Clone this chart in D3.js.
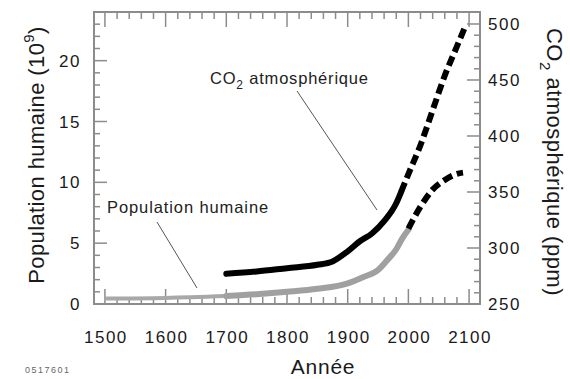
<!DOCTYPE html>
<html lang="fr">
<head>
  <meta charset="UTF-8">
  <title>Population et CO2</title>
  <style>
    body{margin:0;background:#fff;}
    svg text{font-family:"Liberation Sans", Arial, sans-serif;}
  </style>
</head>
<body>
<svg width="570" height="379"></svg>

<script src="https://d3js.org/d3.v7.min.js"></script>
<script>
  // donnees
  var popYearsEarly = [1500, 1600, 1700];
  var popValuesEarly = [0.45, 0.5, 0.65];
  var popYears = [1700, 1750, 1800, 1850, 1900, 1925, 1950, 1965, 1980, 1990, 2000];
  var popValues = [0.65, 0.8, 1.0, 1.25, 1.7, 2.2, 2.8, 3.6, 4.5, 5.4, 6.1];
  var popProjYears = [2000, 2020, 2040, 2060, 2080, 2090];
  var popProjValues = [6.2, 8.0, 9.4, 10.2, 10.7, 10.8];
  var co2Years = [1700, 1750, 1800, 1850, 1875, 1900, 1920, 1940, 1960, 1980, 1988];
  var co2Values = [277, 279, 282, 285, 288, 297, 306, 313, 324, 340, 350];
  var co2ProjYears = [1988, 2000, 2020, 2040, 2060, 2080, 2093];
  var co2ProjValues = [350, 366, 392, 423, 454, 480, 497];
  var xTicks = [1500, 1600, 1700, 1800, 1900, 2000, 2100];
  var popTicks = [0, 5, 10, 15, 20];
  var co2Ticks = [250, 300, 350, 400, 450, 500];

  var svg = d3.select('svg');
  var frame = {left: 94, right: 480, top: 12, bottom: 304};
  var axisColor = '#8c8c8c';
  var textColor = '#1a1a1a';

  var x = d3.scaleLinear().domain([1482, 2118]).range([frame.left, frame.right]);
  var yPop = d3.scaleLinear().domain([0, 24]).range([frame.bottom, frame.top]);
  var yCo2 = d3.scaleLinear().domain([250, 510.7]).range([frame.bottom, frame.top]);

  //cadre
  svg.append('rect')
    .attr('x', frame.left).attr('y', frame.top)
    .attr('width', frame.right - frame.left).attr('height', frame.bottom - frame.top)
    .attr('fill', 'none').attr('stroke', axisColor).attr('stroke-width', 2);

  var ticks = svg.append('g').attr('stroke', axisColor).attr('stroke-width', 1.5);
  //graduations en x, haut et bas
  d3.range(1500, 2101, 20).forEach(function (yr) {
    var len = yr % 100 === 0 ? 15 : 7;
    var px = x(yr);
    ticks.append('line').attr('x1', px).attr('x2', px).attr('y1', frame.bottom).attr('y2', frame.bottom - len);
    ticks.append('line').attr('x1', px).attr('x2', px).attr('y1', frame.top).attr('y2', frame.top + len);
  });
  //graduations population (gauche)
  d3.range(0, 24, 1).forEach(function (v) {
    var len = v % 5 === 0 ? 13 : 6;
    ticks.append('line').attr('x1', frame.left).attr('x2', frame.left + len).attr('y1', yPop(v)).attr('y2', yPop(v));
  });
  //graduations CO2 (droite)
  d3.range(250, 510, 10).forEach(function (v) {
    var len = v % 50 === 0 ? 13 : 6;
    ticks.append('line').attr('x1', frame.right).attr('x2', frame.right - len).attr('y1', yCo2(v)).attr('y2', yCo2(v));
  });

  //etiquettes
  var labels = svg.append('g').attr('fill', textColor).attr('font-size', 17).attr('letter-spacing', 1.5);
  labels.selectAll('.xl').data(xTicks).enter().append('text')
    .attr('x', function (d) { return x(d) + 1; }).attr('y', 343)
    .attr('text-anchor', 'middle').text(function (d) { return d; });
  labels.selectAll('.pl').data(popTicks).enter().append('text')
    .attr('x', 81).attr('y', function (d) { return yPop(d) + 6; })
    .attr('text-anchor', 'end').text(function (d) { return d; });
  labels.selectAll('.cl').data(co2Ticks).enter().append('text')
    .attr('x', 488).attr('y', function (d) { return yCo2(d) + 6; })
    .text(function (d) { return d; });

  //titres des axes
  svg.append('text').attr('x', 323).attr('y', 374).attr('text-anchor', 'middle')
    .attr('font-size', 21).attr('letter-spacing', 0.8).attr('fill', textColor).text('Année');

  var lt = svg.append('text').attr('transform', 'translate(44,155) rotate(-90)')
    .attr('text-anchor', 'middle').attr('font-size', 22).attr('letter-spacing', 0.4).attr('fill', textColor);
  lt.append('tspan').text('Population humaine (10');
  lt.append('tspan').attr('font-size', 15).attr('dy', -10).text('9');
  lt.append('tspan').attr('dy', 10).text(')');

  var rt = svg.append('text').attr('transform', 'translate(547,162) rotate(90)')
    .attr('text-anchor', 'middle').attr('font-size', 22).attr('letter-spacing', 0.5).attr('fill', textColor);
  rt.append('tspan').text('CO');
  rt.append('tspan').attr('font-size', 15).attr('dy', 7).text('2');
  rt.append('tspan').attr('dy', -7).text(' atmosphérique (ppm)');

  //courbes
  var linePop = d3.line().x(function (d) { return x(d[0]); }).y(function (d) { return yPop(d[1]); }).curve(d3.curveMonotoneX);
  var lineCo2 = d3.line().x(function (d) { return x(d[0]); }).y(function (d) { return yCo2(d[1]); }).curve(d3.curveMonotoneX);

  var g = svg.append('g').attr('fill', 'none').attr('stroke-linejoin', 'round');
  g.append('path').attr('d', linePop(d3.zip(popYearsEarly, popValuesEarly)))
    .attr('stroke', '#a8a8a8').attr('stroke-width', 4);
  g.append('path').attr('d', linePop(d3.zip(popYears, popValues)))
    .attr('stroke', '#a0a0a0').attr('stroke-width', 6).attr('stroke-linecap', 'round');
  g.append('path').attr('d', lineCo2(d3.zip(co2Years, co2Values)))
    .attr('stroke', '#000').attr('stroke-width', 6).attr('stroke-linecap', 'round');
  g.append('path').attr('d', linePop(d3.zip(popProjYears, popProjValues)))
    .attr('stroke', '#000').attr('stroke-width', 6).attr('stroke-dasharray', '10,5');
  g.append('path').attr('d', lineCo2(d3.zip(co2ProjYears, co2ProjValues)))
    .attr('stroke', '#000').attr('stroke-width', 6).attr('stroke-dasharray', '10,5');

  //annotations
  var ann = svg.append('g').attr('fill', '#222').attr('font-size', 16.5);
  var ct = ann.append('text').attr('x', 210).attr('y', 84).attr('letter-spacing', 0.8);
  ct.append('tspan').text('CO');
  ct.append('tspan').attr('font-size', 12).attr('dy', 5).text('2');
  ct.append('tspan').attr('dy', -5).text(' atmosphérique');
  ann.append('text').attr('x', 107).attr('y', 213).attr('letter-spacing', 0.9).text('Population humaine');
  ann.append('line').attr('x1', 297).attr('y1', 91).attr('x2', 377).attr('y2', 210).attr('stroke', '#555').attr('stroke-width', 1);
  ann.append('line').attr('x1', 157).attr('y1', 222).attr('x2', 197).attr('y2', 288).attr('stroke', '#555').attr('stroke-width', 1);

  svg.append('text').attr('x', 25).attr('y', 373).attr('font-size', 9).attr('letter-spacing', 1.5)
    .attr('fill', '#666').text('0517601');
</script>
</body>
</html>
